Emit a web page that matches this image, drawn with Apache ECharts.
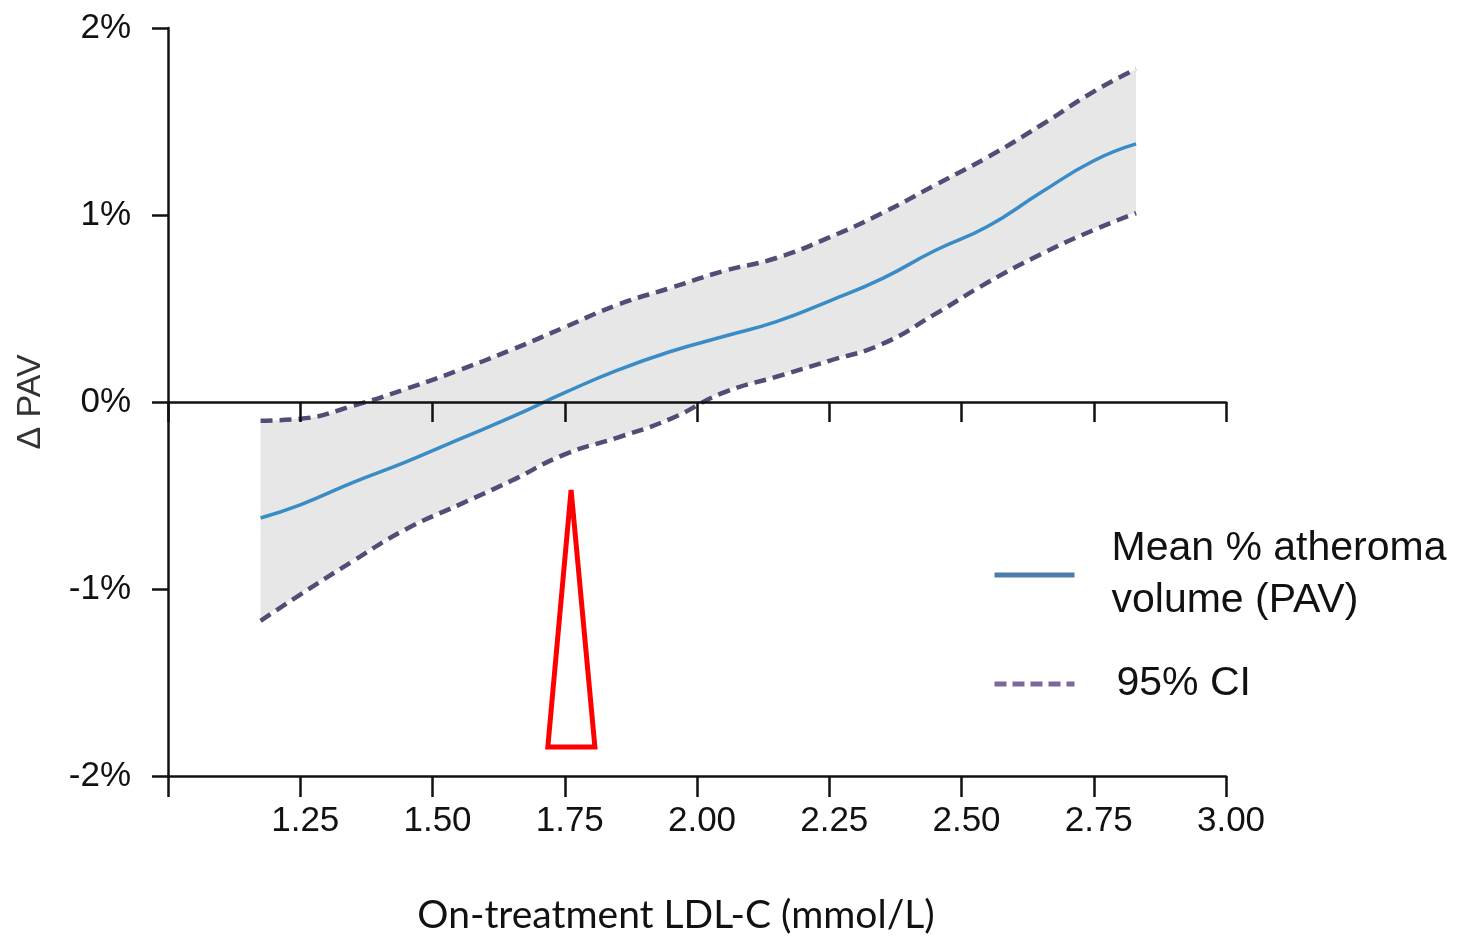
<!DOCTYPE html>
<html>
<head>
<meta charset="utf-8">
<script src="https://cdn.jsdelivr.net/npm/echarts@6/dist/echarts.min.js"></script>
<style>
html,body{margin:0;padding:0;background:#fff;}
#chart{width:1463px;height:938px;}
</style>
</head>
<body>
<div id="chart"></div>
<script>
// LDL-C values (mmol/L)
const ldl = [1.175, 1.25, 1.35, 1.45, 1.55, 1.65, 1.75, 1.85, 1.95, 2.05, 2.15, 2.25, 2.35, 2.45, 2.55, 2.65, 2.75, 2.83];
// Change in PAV (%)
const meanPAV = [-0.62, -0.55, -0.43, -0.32, -0.20, -0.08, 0.05, 0.17, 0.27, 0.35, 0.43, 0.54, 0.66, 0.81, 0.94, 1.12, 1.29, 1.38];
const upperCI = [-0.10, -0.09, -0.02, 0.07, 0.17, 0.28, 0.40, 0.52, 0.61, 0.70, 0.77, 0.88, 1.01, 1.16, 1.31, 1.48, 1.66, 1.78];
const lowerCI = [-1.17, -1.03, -0.85, -0.68, -0.55, -0.42, -0.28, -0.19, -0.09, 0.05, 0.135, 0.22, 0.31, 0.47, 0.64, 0.79, 0.92, 1.01];
// Red arrow annotation (data coordinates)
const arrowX = [1.762, 1.718, 1.807, 1.762];
const arrowY = [-0.47, -1.845, -1.845, -0.47];

const meanName = 'Mean % atheroma volume (PAV)';
const ciName = '95% CI';

const pairs = (xs, ys) => xs.map((x, i) => [x, ys[i]]);

const font = '"Liberation Sans", Arial, sans-serif';
const axisColor = '#111';
const ciColor = '#564a76';

const chart = echarts.init(document.getElementById('chart'));
chart.setOption({
  animation: false,
  backgroundColor: '#fff',
  grid: { left: 168, right: 237, top: 28, bottom: 162, containLabel: false, outerBoundsMode: 'none' },
  legend: [
    {
      orient: 'vertical', left: 992, top: 497, padding: 0,
      itemWidth: 80, itemHeight: 14,
      data: [{ name: meanName, itemStyle: { opacity: 0 }, lineStyle: { color: '#4f7cad', width: 5, type: 'solid' } }],
      formatter: () => 'Mean % atheroma\nvolume (PAV)',
      textStyle: { fontFamily: font, fontSize: 41, color: '#111', lineHeight: 52, padding: [52, 0, 0, 32] },
      selectedMode: false
    },
    {
      orient: 'vertical', left: 992, top: 661, padding: 0,
      itemWidth: 80, itemHeight: 14,
      data: [{ name: ciName, itemStyle: { opacity: 0 }, lineStyle: { color: '#7a6a9c', width: 5, type: [12, 6] } }],
      textStyle: { fontFamily: font, fontSize: 41, color: '#111', lineHeight: 46, padding: [0, 0, 0, 37] },
      selectedMode: false
    }
  ],
  xAxis: [
    {
      type: 'value', position: 'top', min: 1, max: 3, interval: 0.25,
      axisLine: { show: true, onZero: true, lineStyle: { color: axisColor, width: 2.5 } },
      axisTick: { show: true, inside: true, length: 20, lineStyle: { color: axisColor, width: 2.5 } },
      axisLabel: { show: false },
      splitLine: { show: false },
      z: 5
    },
    {
      type: 'value', position: 'bottom', min: 1, max: 3, interval: 0.25,
      axisLine: { show: true, onZero: false, lineStyle: { color: axisColor, width: 2.5 } },
      axisTick: { show: true, inside: false, length: 21, lineStyle: { color: axisColor, width: 2.5 } },
      axisLabel: {
        fontFamily: font, fontSize: 35, color: '#111', margin: 28, padding: [0, 0, 0, 10],
        formatter: v => (v === 1 ? '' : v.toFixed(2))
      },
      splitLine: { show: false },
      name: 'On-treatment LDL-C (mmol/L)',
      nameLocation: 'middle', nameGap: 120,
      nameTextStyle: { fontFamily: 'Lato, "Open Sans", sans-serif', fontSize: 39, color: '#111', padding: [0, 42, 0, 0] },
      z: 5
    }
  ],
  yAxis: {
    type: 'value', min: -2, max: 2, interval: 1,
    axisLine: { show: true, onZero: false, lineStyle: { color: axisColor, width: 2.5 } },
    axisTick: { show: true, inside: false, length: 16, lineStyle: { color: axisColor, width: 2.5 } },
    axisLabel: { fontFamily: font, fontSize: 35, color: '#111', margin: 37, formatter: '{value}%' },
    splitLine: { show: false },
    name: 'Δ PAV', nameLocation: 'middle', nameGap: 120, nameRotate: 90,
    nameTextStyle: { fontFamily: font, fontSize: 34, color: '#333' },
    z: 5
  },
  series: [
    {
      // shaded CI band: fill below upper bound ...
      name: 'bandUpper', type: 'line', xAxisIndex: 1,
      data: pairs(ldl, upperCI), smooth: true, symbol: 'none',
      lineStyle: { opacity: 0 }, areaStyle: { color: '#e7e7e7', opacity: 1, origin: 'start' }, silent: true, z: 1
    },
    {
      // ... and mask below lower bound with background
      name: 'bandLower', type: 'line', xAxisIndex: 1,
      data: pairs(ldl, lowerCI), smooth: true, symbol: 'none',
      lineStyle: { opacity: 0 },
      areaStyle: { color: '#ffffff', opacity: 1, origin: 'start', shadowColor: '#ffffff', shadowBlur: 0, shadowOffsetX: -2 },
      silent: true, z: 1
    },
    {
      name: ciName, type: 'line', xAxisIndex: 1, data: pairs(ldl, upperCI), smooth: true, symbol: 'none',
      lineStyle: { color: ciColor, width: 4.5, type: [12, 7] }, z: 3
    },
    {
      name: ciName, type: 'line', xAxisIndex: 1, data: pairs(ldl, lowerCI), smooth: true, symbol: 'none',
      lineStyle: { color: ciColor, width: 4.5, type: [12, 7] }, z: 3
    },
    {
      name: meanName, type: 'line', xAxisIndex: 1, data: pairs(ldl, meanPAV), smooth: true, symbol: 'none',
      lineStyle: { color: '#3a8cc6', width: 3.5 }, z: 4
    },
    {
      name: 'arrow', type: 'line', xAxisIndex: 1, data: pairs(arrowX, arrowY), symbol: 'none',
      lineStyle: { color: '#ff0000', width: 5, join: 'miter' }, z: 6, silent: true
    }
  ]
});
</script>
</body>
</html>
